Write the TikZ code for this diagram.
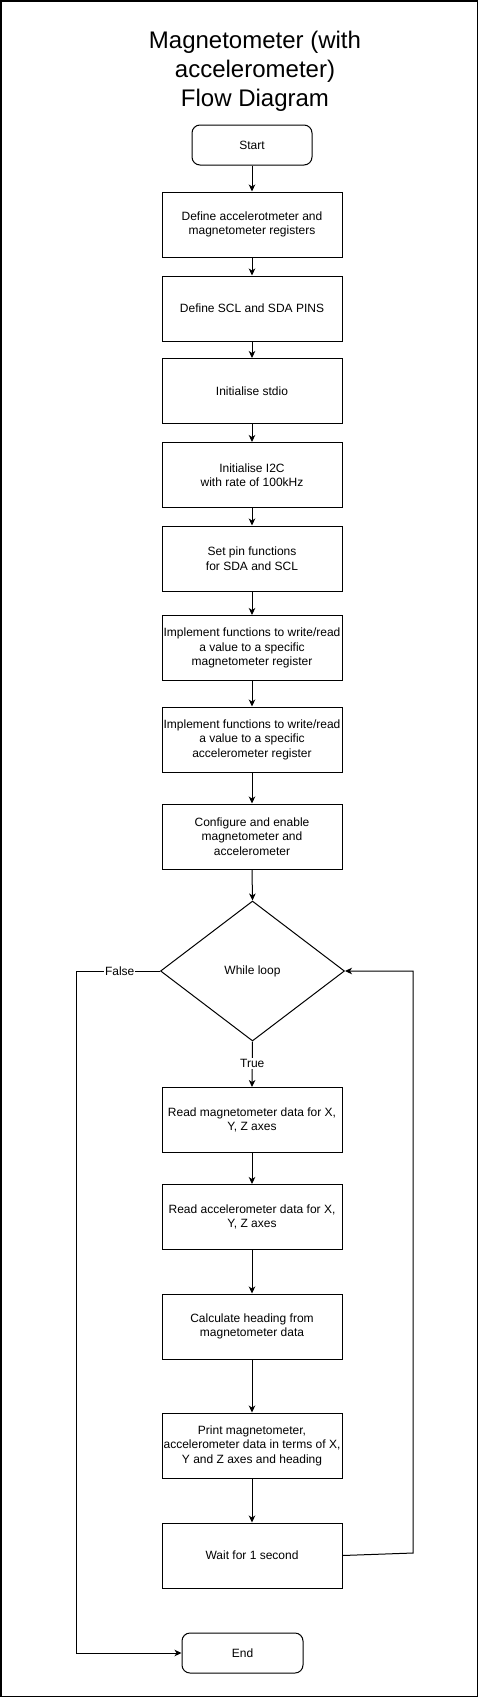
\documentclass[tikz,border=0pt]{standalone}
\usepackage{fontspec}
\setmainfont{Liberation Sans}
\usetikzlibrary{shapes.geometric,arrows.meta}
\tikzset{
  procbox/.style={draw, line width=1pt, minimum width=180pt, minimum height=65pt, inner sep=0pt, align=center, font=\fontsize{12}{14.5}\selectfont},
  termbox/.style={draw, line width=1pt, rounded corners=8pt, minimum width=120pt, minimum height=40pt, inner sep=0pt, align=center, font=\fontsize{12}{14.5}\selectfont},
  decbox/.style={draw, diamond, line width=1pt, minimum width=184pt, minimum height=140pt, inner sep=0pt, align=center, font=\fontsize{12}{14.5}\selectfont},
  flow/.style={line width=1pt, -{Stealth[length=7pt,width=6.5pt,inset=2pt]}},
  plainline/.style={line width=1pt},
  lbl/.style={fill=white, inner sep=1pt, font=\fontsize{12}{14}\selectfont},
  titletext/.style={align=center, font=\fontsize{24}{28.8}\selectfont}
}
\begin{document}
\begin{tikzpicture}[x=1pt,y=-1pt]
\useasboundingbox (0,0) rectangle (478,1697);
\draw[line width=1.5pt] (0.75,0.75) rectangle (477.25,1696.25);

\node[titletext] (title) at (255,71) {Magnetometer (with\\accelerometer)\\Flow Diagram};

\node[termbox] (start) at (252,145) {Start};
\node[procbox] (def) at (252,224.5) {Define accelerotmeter and\\magnetometer registers};
\node[procbox] (scl) at (252,308.5) {Define SCL and SDA PINS};
\node[procbox] (stdio) at (252,391) {Initialise stdio};
\node[procbox] (i2c) at (252,475) {Initialise I2C\\with rate of 100kHz};
\node[procbox] (pins) at (252,558.5) {Set pin functions\\for SDA and SCL};
\node[procbox] (impm) at (252,648) {Implement functions to write/read\\a value to a specific\\magnetometer register};
\node[procbox] (impa) at (252,739.5) {Implement functions to write/read\\a value to a specific\\accelerometer register};
\node[procbox] (conf) at (252,836.5) {Configure and enable\\magnetometer and\\accelerometer};
\node[decbox] (loop) at (252.5,971) {While loop};
\node[procbox] (rmag) at (252,1120) {Read magnetometer data for X,\\Y, Z axes};
\node[procbox] (racc) at (252,1217) {Read accelerometer data for X,\\Y, Z axes};
\node[procbox] (calc) at (252,1326.5) {Calculate heading from\\magnetometer data};
\node[procbox] (prnt) at (252,1445.5) {Print magnetometer,\\accelerometer data in terms of X,\\Y and Z axes and heading};
\node[procbox] (wait) at (252,1555.5) {Wait for 1 second};
\node[termbox, minimum width=121pt] (end) at (242.5,1653) {End};

\draw[flow] (start) -- (def);
\draw[flow] (def) -- (scl);
\draw[flow] (scl) -- (stdio);
\draw[flow] (stdio) -- (i2c);
\draw[flow] (i2c) -- (pins);
\draw[flow] (pins) -- (impm);
\draw[flow] (impm) -- (impa);
\draw[flow] (impa) -- (conf);
\draw[flow] (conf.south) -- (loop.north);
\draw[flow] (loop.south) -- node[lbl, pos=0.48] (truelbl) {True} (rmag.north);
\draw[flow] (rmag) -- (racc);
\draw[flow] (racc) -- (calc);
\draw[flow] (calc) -- (prnt);
\draw[flow] (prnt) -- (wait);

\coordinate (fa) at (76,971);
\coordinate (fb) at (76,1653);
\draw[flow] (loop.west) -- node[lbl, pos=0.48] (falselbl) {False} (fa) -- (fb) -- (end.west);

\coordinate (la) at (413,1553);
\coordinate (lb) at (413,971);
\draw[flow] (wait.east) -- (la) -- (lb) -- (loop.east);
\end{tikzpicture}
\end{document}
